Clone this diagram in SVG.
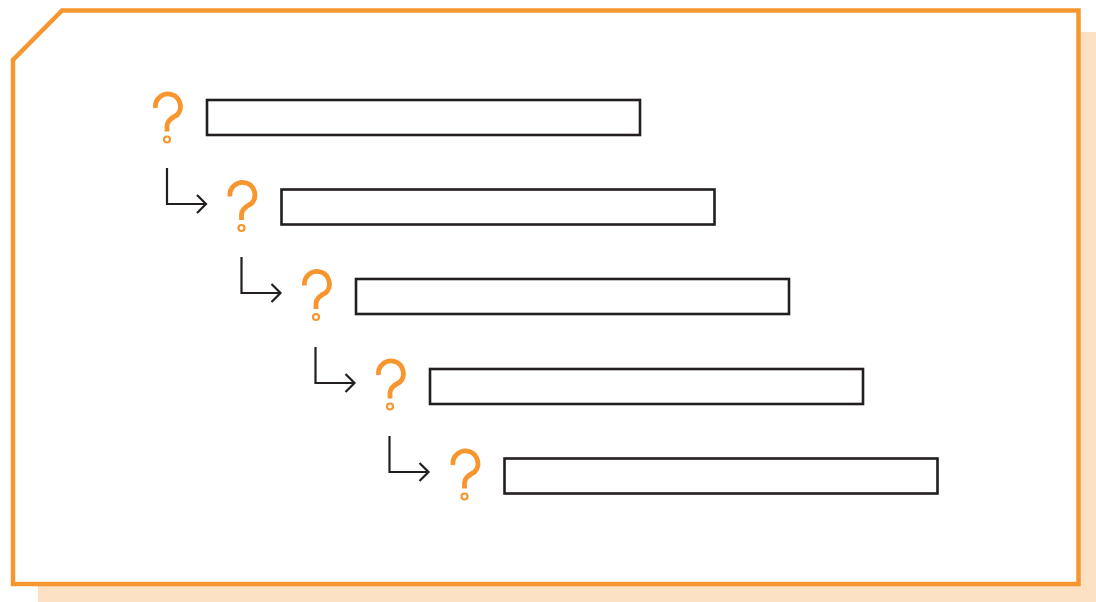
<svg xmlns="http://www.w3.org/2000/svg" width="1096" height="602" viewBox="0 0 1096 602">
<defs>
<style>
.bar{fill:#fff;stroke:#231f20;stroke-width:2.6}
.q{fill:none;stroke:#f7962f;stroke-width:4.8}
.qd{fill:none;stroke:#f7962f;stroke-width:2.2}
.con{fill:none;stroke:#231f20;stroke-width:2.2}
</style>
<g id="qm">
<path class="q" d="M155.5,108 A12.5,12.5 0 1 1 177,115 Q167,120 167,126 L167,131.5"/>
<circle class="qd" cx="167" cy="139.5" r="3"/>
</g>
</defs>
<rect id="shadow" x="38" y="32" width="1060" height="572" fill="#fde1c5"/>
<path id="frame" d="M62,10.5 H1078.5 V584 H13 V60 Z" fill="#fff" stroke="#f7962f" stroke-width="4.5"/>
<g id="node1"><use href="#qm"/><rect class="bar" x="207" y="100" width="433" height="35"/></g>
<g id="node2"><use href="#qm" x="74.5" y="88.5"/><rect class="bar" x="281.5" y="189.5" width="433" height="35"/></g>
<g id="node3"><use href="#qm" x="149" y="177.5"/><rect class="bar" x="356" y="279" width="433" height="35"/></g>
<g id="node4"><use href="#qm" x="223" y="267"/><rect class="bar" x="430" y="369" width="433" height="35"/></g>
<g id="node5"><use href="#qm" x="297.5" y="357"/><rect class="bar" x="504.5" y="458.5" width="433" height="35"/></g>
<g id="connectors">
<path class="con" d="M167,168 V204 H206 M197,195 L206,204 L197,213"/>
<path class="con" d="M241.5,257 V293 H280.5 M271.5,284 L280.5,293 L271.5,302"/>
<path class="con" d="M315.5,347 V383 H354.5 M345.5,374 L354.5,383 L345.5,392"/>
<path class="con" d="M389.5,436 V472 H428.5 M419.5,463 L428.5,472 L419.5,481"/>
</g>
</svg>
